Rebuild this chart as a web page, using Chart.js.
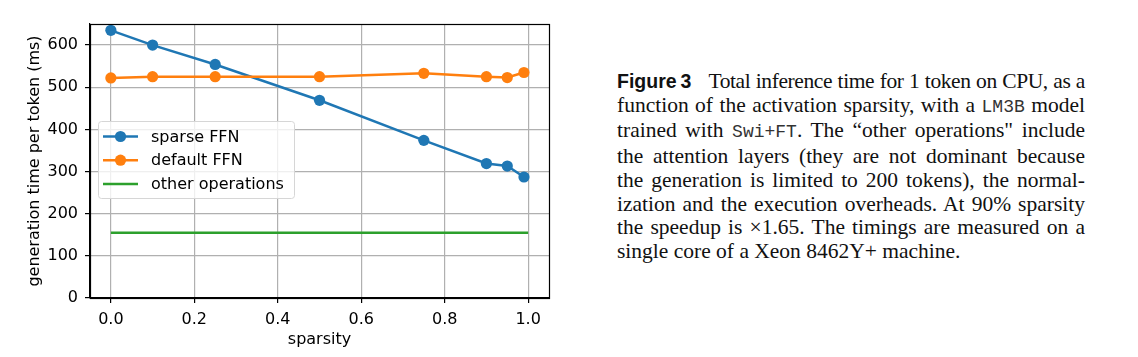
<!DOCTYPE html>
<html>
<head>
<meta charset="utf-8">
<script src="https://cdn.jsdelivr.net/npm/chart.js@4.4.1/dist/chart.umd.min.js"></script>
<style>
  html, body { margin: 0; padding: 0; background: #fff; width: 1138px; height: 357px; overflow: hidden; }
  #wrap { position: absolute; left: 0; top: 0; width: 565px; height: 357px; }
  #cap { position: absolute; left: 617px; top: 70px; width: 468px;
         font-family: "Liberation Serif", serif; font-size: 21.5px; line-height: 23.7px; color: #111; }
  #cap .l { white-space: nowrap; text-align: justify; text-align-last: justify; }
  #cap .first { letter-spacing: -0.4px; word-spacing: -1.5px; }
  #cap .last { text-align-last: left; }
  #cap b { font-family: "Liberation Sans", Arial, sans-serif; font-weight: bold; font-size: 19.5px;
           letter-spacing: 0; display: inline-block; margin-right: 12px; }
  #cap code { font-family: "Liberation Mono", "DejaVu Sans Mono", monospace; font-size: 18px; color: #333; }
</style>
</head>
<body>
<div id="wrap"><canvas id="c"></canvas></div>
<div id="cap">
  <div class="l first"><b>Figure 3</b> Total inference time for 1 token on CPU, as a</div>
  <div class="l">function of the activation sparsity, with a <code>LM3B</code> model</div>
  <div class="l">trained with <code>Swi+FT</code>. The “other operations" include</div>
  <div class="l">the attention layers (they are not dominant because</div>
  <div class="l">the generation is limited to 200 tokens), the normal-</div>
  <div class="l">ization and the execution overheads. At 90% sparsity</div>
  <div class="l">the speedup is ×1.65. The timings are measured on a</div>
  <div class="l last">single core of a Xeon 8462Y+ machine.</div>
</div>
<script>
const sparsity = [0.0, 0.1, 0.25, 0.5, 0.75, 0.9, 0.95, 0.99];
const sparseFFN = [635, 600, 554, 469, 374, 319, 313, 287];
const defaultFFN = [522, 525, 525, 525, 533, 525, 523, 535];
const otherX = [0.0, 1.0];
const otherOps = [155, 155];
const seriesNames = ['sparse FFN', 'default FFN', 'other operations'];
const xTicks = [0.0, 0.2, 0.4, 0.6, 0.8, 1.0];
const yTicks = [0, 100, 200, 300, 400, 500, 600];
const xLabel = 'sparsity';
const yLabel = 'generation time per token (ms)';

const FONT = { family: 'DejaVu Sans', size: 16 };
const blue = '#1f77b4', orange = '#ff7f0e', green = '#2ca02c';

const pts = (xs, ys) => xs.map((x, i) => ({ x: x, y: ys[i] }));

const frameAndLegend = {
  id: 'frameAndLegend',
  afterDatasetsDraw(chart) {
    const ctx = chart.ctx, a = chart.chartArea;
    ctx.save();
    const lx = a.left + 8, ly = a.top + 97, lw = 196, lh = 77;
    ctx.beginPath();
    ctx.roundRect(lx + 0.5, ly + 0.5, lw, lh, 3);
    ctx.fillStyle = 'rgba(255,255,255,0.8)';
    ctx.fill();
    ctx.strokeStyle = '#d6d6d6';
    ctx.lineWidth = 1;
    ctx.stroke();
    const ds = chart.data.datasets;
    ctx.font = FONT.size + 'px "DejaVu Sans"';
    ctx.textBaseline = 'middle';
    ctx.textAlign = 'left';
    for (let i = 0; i < ds.length; i++) {
      const y = ly + 15.5 + i * 23.7;
      const x0 = lx + 5, x1 = lx + 40;
      ctx.beginPath();
      ctx.moveTo(x0, y); ctx.lineTo(x1, y);
      ctx.strokeStyle = ds[i].borderColor;
      ctx.lineWidth = ds[i].borderWidth;
      ctx.stroke();
      if (ds[i].pointRadius > 0) {
        ctx.beginPath();
        ctx.arc((x0 + x1) / 2, y, ds[i].pointRadius, 0, Math.PI * 2);
        ctx.fillStyle = ds[i].borderColor;
        ctx.fill();
      }
      ctx.fillStyle = '#000';
      ctx.fillText(ds[i].label, lx + 53, y + 1);
    }
    ctx.restore();
  },
  afterDraw(chart) {
    const ctx = chart.ctx, a = chart.chartArea;
    ctx.save();
    ctx.strokeStyle = '#000';
    ctx.lineWidth = 1.2;
    ctx.strokeRect(Math.round(a.left) + 0.5, Math.round(a.top) + 0.5,
                   Math.round(a.right - a.left), Math.round(a.bottom - a.top));
    ctx.restore();
  }
};

Chart.defaults.font.family = FONT.family;
Chart.defaults.font.size = FONT.size;
Chart.defaults.color = '#000';

new Chart(document.getElementById('c'), {
  type: 'line',
  data: {
    datasets: [
      { label: seriesNames[0], data: pts(sparsity, sparseFFN), borderColor: blue, backgroundColor: blue,
        borderWidth: 2.5, pointRadius: 5.6, pointHoverRadius: 5.6, pointBorderWidth: 0, order: 3 },
      { label: seriesNames[1], data: pts(sparsity, defaultFFN), borderColor: orange, backgroundColor: orange,
        borderWidth: 2.5, pointRadius: 5.6, pointHoverRadius: 5.6, pointBorderWidth: 0, order: 2 },
      { label: seriesNames[2], data: pts(otherX, otherOps), borderColor: green, backgroundColor: green,
        borderWidth: 2.5, pointRadius: 0, order: 1 }
    ]
  },
  options: {
    responsive: true,
    maintainAspectRatio: false,
    animation: false,
    events: [],
    layout: { padding: { top: 24, right: 16, bottom: 0, left: 0 } },
    plugins: { legend: { display: false }, tooltip: { enabled: false } },
    scales: {
      x: {
        type: 'linear', min: -0.05, max: 1.05,
        afterBuildTicks: s => { s.ticks = xTicks.map(v => ({ value: v })); },
        afterFit: s => { s.height = 59; },
        ticks: { callback: v => v.toFixed(1), padding: 7, maxRotation: 0, autoSkip: false, color: '#000' },
        grid: { color: '#b0b0b0', lineWidth: 1.2, tickColor: '#000', tickLength: 5 },
        border: { display: true, color: '#000', width: 1.2 },
        title: { display: true, text: xLabel, padding: { top: 0, bottom: 7.4 }, color: '#000' }
      },
      y: {
        type: 'linear', min: 0, max: 650,
        afterBuildTicks: s => { s.ticks = yTicks.map(v => ({ value: v })); },
        afterFit: s => { s.width = 90; },
        ticks: { padding: 7, color: '#000' },
        grid: { color: '#b0b0b0', lineWidth: 1.2, tickColor: '#000', tickLength: 5 },
        border: { display: true, color: '#000', width: 1.2 },
        title: { display: true, text: yLabel, padding: { top: 25.4, bottom: 0 }, color: '#000' }
      }
    }
  },
  plugins: [frameAndLegend]
});
</script>
</body>
</html>
